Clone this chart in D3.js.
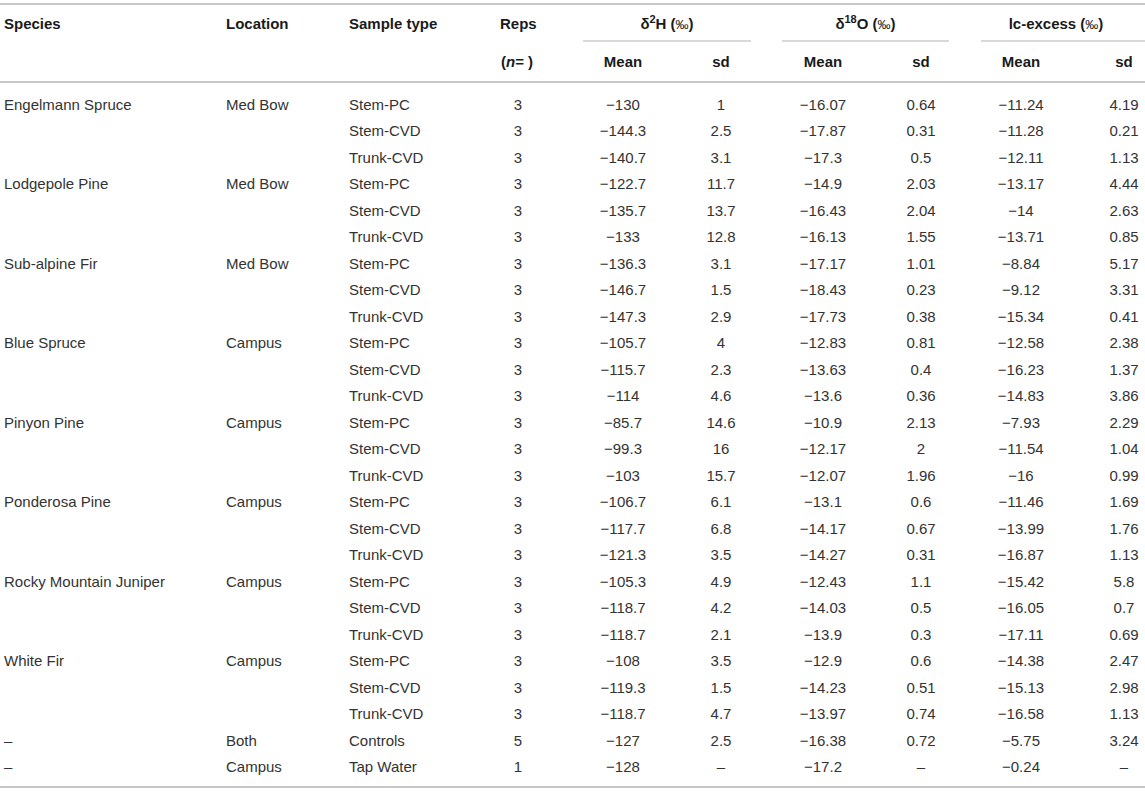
<!DOCTYPE html>
<html>
<head>
<meta charset="utf-8">
<script src="https://cdn.jsdelivr.net/npm/d3@7"></script>
<style>
  html, body { margin: 0; padding: 0; background: #fff; }
  svg text { font-family: "Liberation Sans", Arial, Helvetica, sans-serif; font-size: 15px; }
</style>
</head>
<body>
<svg id="table" width="1145" height="791"></svg>
<script>
// table rows
var species = ["Engelmann Spruce", "", "", "Lodgepole Pine", "", "", "Sub-alpine Fir", "", "",
    "Blue Spruce", "", "", "Pinyon Pine", "", "", "Ponderosa Pine", "", "",
    "Rocky Mountain Juniper", "", "", "White Fir", "", "", "–", "–"];
var locations = ["Med Bow", "", "", "Med Bow", "", "", "Med Bow", "", "",
    "Campus", "", "", "Campus", "", "", "Campus", "", "",
    "Campus", "", "", "Campus", "", "", "Both", "Campus"];
var sampleTypes = ["Stem-PC", "Stem-CVD", "Trunk-CVD", "Stem-PC", "Stem-CVD", "Trunk-CVD",
    "Stem-PC", "Stem-CVD", "Trunk-CVD", "Stem-PC", "Stem-CVD", "Trunk-CVD",
    "Stem-PC", "Stem-CVD", "Trunk-CVD", "Stem-PC", "Stem-CVD", "Trunk-CVD",
    "Stem-PC", "Stem-CVD", "Trunk-CVD", "Stem-PC", "Stem-CVD", "Trunk-CVD",
    "Controls", "Tap Water"];
var reps = [3, 3, 3, 3, 3, 3, 3, 3, 3, 3, 3, 3, 3, 3, 3, 3, 3, 3, 3, 3, 3, 3, 3, 3, 5, 1];
var d2hMean = [-130, -144.3, -140.7, -122.7, -135.7, -133, -136.3, -146.7, -147.3,
    -105.7, -115.7, -114, -85.7, -99.3, -103, -106.7, -117.7, -121.3,
    -105.3, -118.7, -118.7, -108, -119.3, -118.7, -127, -128];
var d2hSd = [1, 2.5, 3.1, 11.7, 13.7, 12.8, 3.1, 1.5, 2.9, 4, 2.3, 4.6, 14.6, 16, 15.7,
    6.1, 6.8, 3.5, 4.9, 4.2, 2.1, 3.5, 1.5, 4.7, 2.5, null];
var d18oMean = [-16.07, -17.87, -17.3, -14.9, -16.43, -16.13, -17.17, -18.43, -17.73,
    -12.83, -13.63, -13.6, -10.9, -12.17, -12.07, -13.1, -14.17, -14.27,
    -12.43, -14.03, -13.9, -12.9, -14.23, -13.97, -16.38, -17.2];
var d18oSd = [0.64, 0.31, 0.5, 2.03, 2.04, 1.55, 1.01, 0.23, 0.38, 0.81, 0.4, 0.36,
    2.13, 2, 1.96, 0.6, 0.67, 0.31, 1.1, 0.5, 0.3, 0.6, 0.51, 0.74, 0.72, null];
var lcMean = [-11.24, -11.28, -12.11, -13.17, -14, -13.71, -8.84, -9.12, -15.34,
    -12.58, -16.23, -14.83, -7.93, -11.54, -16, -11.46, -13.99, -16.87,
    -15.42, -16.05, -17.11, -14.38, -15.13, -16.58, -5.75, -0.24];
var lcSd = [4.19, 0.21, 1.13, 4.44, 2.63, 0.85, 5.17, 3.31, 0.41, 2.38, 1.37, 3.86,
    2.29, 1.04, 0.99, 1.69, 1.76, 1.13, 5.8, 0.7, 0.69, 2.47, 2.98, 1.13, 3.24, null];

var svg = d3.select("#table");
var W = 1145;

function fmt(v) {
    if (v === null || v === undefined) return "–";
    return v < 0 ? "\u2212" + String(Math.abs(v)) : String(v);
}

var y = d3.scalePoint().domain(d3.range(sampleTypes.length)).range([104, 766.5]);

// columns: left-aligned text, then centered numbers
var columns = [
    {values: species, x: 4, anchor: "start", f: String},
    {values: locations, x: 226, anchor: "start", f: String},
    {values: sampleTypes, x: 349, anchor: "start", f: String},
    {values: reps, x: 518, anchor: "middle", f: String},
    {values: d2hMean, x: 623, anchor: "middle", f: fmt},
    {values: d2hSd, x: 721, anchor: "middle", f: fmt},
    {values: d18oMean, x: 823, anchor: "middle", f: fmt},
    {values: d18oSd, x: 921, anchor: "middle", f: fmt},
    {values: lcMean, x: 1021, anchor: "middle", f: fmt},
    {values: lcSd, x: 1124, anchor: "middle", f: fmt}
];

// rules
var rules = [4, 82, 787];
svg.selectAll("line.rule").data(rules).enter().append("line")
    .attr("class", "rule")
    .attr("x1", 0).attr("x2", W)
    .attr("y1", function(d) { return d; }).attr("y2", function(d) { return d; })
    .style("stroke", "#b4b4b4").style("stroke-width", 1.6);

var groups = [
    {label: ["δ", "2", "H"], x1: 583, x2: 751},
    {label: ["δ", "18", "O"], x1: 782, x2: 949},
    {label: ["lc-excess", "", ""], x1: 981, x2: 1145}
];

svg.selectAll("line.group").data(groups).enter().append("line")
    .attr("class", "group")
    .attr("x1", function(d) { return d.x1; }).attr("x2", function(d) { return d.x2; })
    .attr("y1", 41).attr("y2", 41)
    .style("stroke", "#b4b4b4").style("stroke-width", 1.2);

var gt = svg.selectAll("text.grp").data(groups).enter().append("text")
    .attr("class", "grp")
    .attr("x", function(d) { return (d.x1 + d.x2) / 2 - (d.x2 === W ? 7 : 0); })
    .attr("y", 29)
    .attr("text-anchor", "middle")
    .style("font-weight", "bold").style("fill", "#1a1a1a");
gt.append("tspan").text(function(d) { return d.label[0]; });
gt.append("tspan").attr("dy", -6).style("font-size", "11px")
    .text(function(d) { return d.label[1]; });
gt.append("tspan").attr("dy", function(d) { return d.label[1] ? 6 : 0; })
    .text(function(d) { return d.label[2] + " ("; });
gt.append("tspan").style("font-weight", "normal").style("font-size", "13px").text("‰");
gt.append("tspan").text(")");

// header row texts
var heads = [
    {t: "Species", x: 4, anchor: "start", y: 29},
    {t: "Location", x: 226, anchor: "start", y: 29},
    {t: "Sample type", x: 349, anchor: "start", y: 29},
    {t: "Reps", x: 500, anchor: "start", y: 29},
    {t: "Mean", x: 623, anchor: "middle", y: 67},
    {t: "sd", x: 721, anchor: "middle", y: 67},
    {t: "Mean", x: 823, anchor: "middle", y: 67},
    {t: "sd", x: 921, anchor: "middle", y: 67},
    {t: "Mean", x: 1021, anchor: "middle", y: 67},
    {t: "sd", x: 1124, anchor: "middle", y: 67}
];
svg.selectAll("text.head").data(heads).enter().append("text")
    .attr("class", "head")
    .attr("x", function(d) { return d.x; })
    .attr("y", function(d) { return d.y; })
    .attr("text-anchor", function(d) { return d.anchor; })
    .style("font-weight", "bold").style("fill", "#1a1a1a")
    .text(function(d) { return d.t; });

var nt = svg.append("text").attr("x", 501).attr("y", 67)
    .style("font-weight", "bold").style("fill", "#1a1a1a");
nt.append("tspan").text("(");
nt.append("tspan").style("font-style", "italic").text("n");
nt.append("tspan").text("= )");

// body cells
columns.forEach(function(col) {
    svg.append("g").selectAll("text")
        .data(col.values)
        .enter().append("text")
        .attr("x", col.x)
        .attr("y", function(d, i) { return y(i) + 5.5; })
        .attr("text-anchor", col.anchor)
        .style("fill", "#333")
        .text(function(d) { return col.f(d); });
});
</script>
</body>
</html>
